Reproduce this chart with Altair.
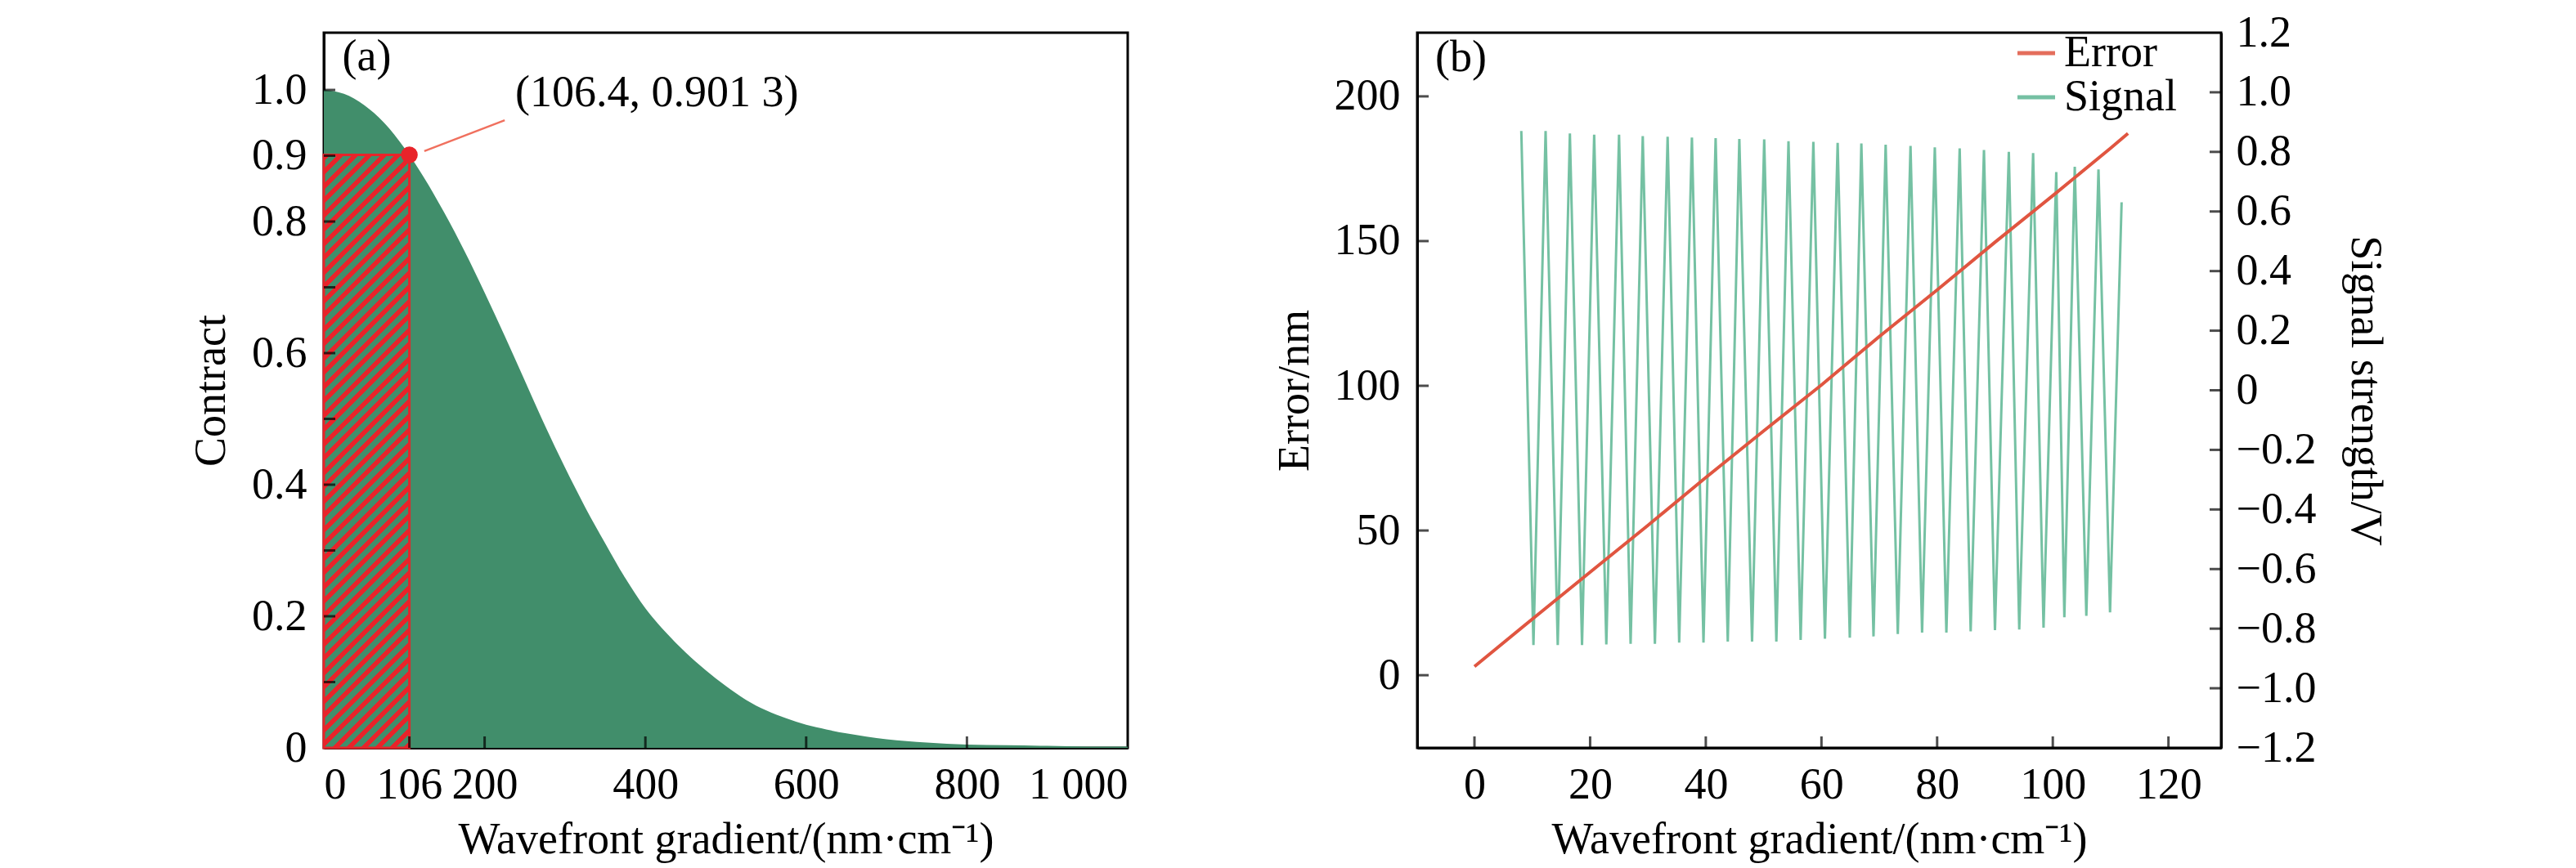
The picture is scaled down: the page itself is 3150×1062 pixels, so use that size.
import pandas as pd
import altair as alt

FONT = "Liberation Serif"
FS = 54
W, H = 983, 875

GREEN = "#418e6b"
RED = "#e8242a"
LEADER = "#f0705e"
ERR_COLOR = "#e05540"
SIG_COLOR = "#5db693"

# ---- panel (a): contrast vs wavefront gradient
GRAD = [0, 25, 50, 75, 100, 125, 150, 175, 200, 225, 250, 275, 300, 325, 350,
        375, 400, 425, 450, 475, 500, 525, 550, 575, 600, 625, 650, 675, 700,
        750, 800, 850, 900, 950, 1000]
CONTRAST = [1.000, 0.994, 0.977, 0.950, 0.912, 0.866, 0.813, 0.755, 0.692, 0.626,
            0.558, 0.490, 0.426, 0.366, 0.311, 0.258, 0.212, 0.176, 0.145, 0.118,
            0.094, 0.073, 0.057, 0.045, 0.035, 0.028, 0.022, 0.017, 0.013,
            0.008, 0.005, 0.004, 0.003, 0.002, 0.002]
HATCH_X = [0, 106.4]
HATCH_Y = [0, 0.9013]
MARK_X, MARK_Y = 106.4, 0.9013
LEADER_X = [125, 225]
LEADER_Y = [0.907, 0.954]
NOTE_TEXT = "(106.4, 0.901 3)"
NOTE_X, NOTE_Y = 238, 0.975
TAG_A_X, TAG_A_Y = 23, 1.030
XLAB_A = [0, 106, 200, 400, 600, 800, 1000]
XTICK_A = [106.4, 200, 400, 600, 800]
YLAB_A = [0, 0.2, 0.4, 0.6, 0.8, 0.9, 1.0]
YTICK_A = [0.1, 0.2, 0.3, 0.4, 0.5, 0.6, 0.7, 0.8, 0.9, 1.0]
XDOM_A = [0, 1000]
YDOM_A = [0, 1.087]

# ---- panel (b): error line and interference signal
ERR_X = [0, 10, 20, 30, 40, 50, 60, 70, 80, 90, 100, 110, 113]
ERR_Y = [3.0, 19.4, 35.6, 51.8, 68.3, 84.4, 100.3, 117.0, 133.1, 149.6, 165.7, 182.1, 187.2]
SIG_X = [8.1, 10.2, 12.3, 14.4, 16.5, 18.6, 20.7, 22.8, 25.0, 27.0, 29.1, 31.2,
         33.4, 35.4, 37.6, 39.6, 41.7, 43.8, 45.8, 48.0, 50.1, 52.2, 54.3, 56.4,
         58.6, 60.6, 62.8, 64.9, 66.9, 69.0, 71.1, 73.2, 75.4, 77.4, 79.6, 81.6,
         83.9, 85.8, 88.1, 90.0, 92.4, 94.2, 96.6, 98.4, 100.6, 102.0, 103.8,
         105.8, 107.9, 109.9, 111.9]
SIG_Y = [0.870, -0.855, 0.870, -0.855, 0.862, -0.855, 0.858, -0.853, 0.858, -0.851,
         0.853, -0.851, 0.851, -0.847, 0.848, -0.847, 0.846, -0.843, 0.843, -0.843,
         0.842, -0.843, 0.836, -0.838, 0.834, -0.834, 0.830, -0.830, 0.828, -0.826,
         0.824, -0.818, 0.820, -0.813, 0.815, -0.813, 0.812, -0.809, 0.806, -0.805,
         0.800, -0.803, 0.796, -0.797, 0.732, -0.762, 0.750, -0.757, 0.741, -0.745,
         0.631]
TAG_B_X, TAG_B_Y = -6.8, 208.7
XLAB_B = [0, 20, 40, 60, 80, 100, 120]
YLAB_BL = [0, 50, 100, 150, 200]
YLAB_BR = [-1.2, -1.0, -0.8, -0.6, -0.4, -0.2, 0, 0.2, 0.4, 0.6, 0.8, 1.0, 1.2]
XDOM_B = [-9.9, 129.1]
YDOM_BL = [-25.1, 222.0]
YDOM_BR = [-1.2, 1.2]

NUM_LABEL = "datum.value == 0 ? '0' : format(datum.value, '.1f')"
XTITLE = "Wavefront gradient/(nm·cm⁻¹)"


def scale(dom):
    return alt.Scale(domain=dom, nice=False, zero=False)


def hatch_fill(w_px, h_px, period=17.5, frac=0.45):
    # diagonal stripes drawn as a hard-stop linear gradient over the rect box
    r = h_px / w_px
    k = (w_px + h_px) / (w_px * (1 + r * r))
    n = (w_px + h_px) / period
    stops = []
    i = 0
    while i < n:
        a, b, c = i / n, min((i + frac) / n, 1), min((i + 1) / n, 1)
        stops += [
            alt.GradientStop(offset=a, color=RED),
            alt.GradientStop(offset=b, color=RED),
            alt.GradientStop(offset=b, color=GREEN),
            alt.GradientStop(offset=c, color=GREEN),
        ]
        i += 1
    return alt.LinearGradient(gradient="linear", stops=stops, x1=0, y1=0, x2=k, y2=k * r)


def text_layer(x, y, s, xs, ys):
    return (
        alt.Chart(pd.DataFrame({"x": [x], "y": [y], "s": [s]}))
        .mark_text(align="left", baseline="alphabetic", font=FONT, fontSize=FS, color="black")
        .encode(x=alt.X("x:Q").scale(xs), y=alt.Y("y:Q").scale(ys), text="s:N")
    )


def x_ticks(vals, xs):
    return (
        alt.Chart(pd.DataFrame({"t": vals}))
        .mark_tick(orient="vertical", size=14, thickness=3, color="black")
        .encode(x=alt.X("t:Q").scale(xs), y=alt.value(H - 7))
    )


def y_ticks(vals, ys, at):
    return (
        alt.Chart(pd.DataFrame({"t": vals}))
        .mark_tick(orient="horizontal", size=14, thickness=3, color="black")
        .encode(y=alt.Y("t:Q").scale(ys), x=alt.value(at))
    )


def x_axis(values, **kw):
    return alt.Axis(
        values=values, labelPadding=18, title=XTITLE, titleX=W / 2, titleY=128,
        titleBaseline="alphabetic", titleAlign="center", **kw,
    )


def y_axis(values, title, tx, angle, **kw):
    return alt.Axis(
        values=values, title=title, titleX=tx, titleY=H / 2, titleAngle=angle,
        titleBaseline="middle", titleAlign="center", **kw,
    )


def chart_contrast() -> alt.LayerChart:
    xs, ys = scale(XDOM_A), scale(YDOM_A)
    area = (
        alt.Chart(pd.DataFrame({"g": GRAD, "c": CONTRAST}))
        .mark_area(color=GREEN, interpolate="monotone")
        .encode(
            x=alt.X("g:Q").scale(xs).axis(
                x_axis(XLAB_A, labelExpr="datum.value == 1000 ? '1 000' : format(datum.value, 'd')")
            ),
            y=alt.Y("c:Q").scale(ys).axis(
                y_axis(YLAB_A, "Contract", -137.5, 270, labelExpr=NUM_LABEL, labelPadding=21)
            ),
        )
    )
    w_px = (HATCH_X[1] - HATCH_X[0]) * W / (XDOM_A[1] - XDOM_A[0])
    h_px = (HATCH_Y[1] - HATCH_Y[0]) * H / (YDOM_A[1] - YDOM_A[0])
    rect = (
        alt.Chart(pd.DataFrame({"x1": [HATCH_X[0]], "x2": [HATCH_X[1]], "y1": [HATCH_Y[0]], "y2": [HATCH_Y[1]]}))
        .mark_rect(fill=hatch_fill(w_px, h_px), stroke=RED, strokeWidth=3)
        .encode(x=alt.X("x1:Q").scale(xs), x2="x2:Q", y=alt.Y("y1:Q").scale(ys), y2="y2:Q")
    )
    leader = (
        alt.Chart(pd.DataFrame({"x": [LEADER_X[0]], "x2": [LEADER_X[1]], "y": [LEADER_Y[0]], "y2": [LEADER_Y[1]]}))
        .mark_rule(color=LEADER, strokeWidth=2.5)
        .encode(x=alt.X("x:Q").scale(xs), x2="x2:Q", y=alt.Y("y:Q").scale(ys), y2="y2:Q")
    )
    point = (
        alt.Chart(pd.DataFrame({"x": [MARK_X], "y": [MARK_Y]}))
        .mark_circle(size=420, color=RED, opacity=1)
        .encode(x=alt.X("x:Q").scale(xs), y=alt.Y("y:Q").scale(ys))
    )
    return alt.layer(
        area, rect, leader, point,
        text_layer(NOTE_X, NOTE_Y, NOTE_TEXT, xs, ys),
        text_layer(TAG_A_X, TAG_A_Y, "(a)", xs, ys),
        x_ticks(XTICK_A, xs), y_ticks(YTICK_A, ys, 7),
    ).properties(width=W, height=H)


def chart_error_signal() -> alt.LayerChart:
    xs, ysl, ysr = scale(XDOM_B), scale(YDOM_BL), scale(YDOM_BR)
    color_scale = alt.Scale(domain=["Error", "Signal"], range=[ERR_COLOR, SIG_COLOR])
    legend = alt.Legend(
        orient="none", legendX=730, legendY=-2, title=None, symbolType="stroke",
        symbolSize=2116, symbolStrokeWidth=5, labelFont=FONT, labelFontSize=FS,
        labelColor="black", labelOffset=7, rowPadding=0, padding=0,
    )
    bx = alt.X("x:Q").scale(xs).axis(x_axis(XLAB_B, format="d"))
    err = (
        alt.Chart(pd.DataFrame({"x": ERR_X, "e": ERR_Y, "s": "Error"}))
        .mark_line(strokeWidth=4)
        .encode(
            x=bx,
            y=alt.Y("e:Q").scale(ysl).axis(
                y_axis(YLAB_BL, "Error/nm", -150, 270, orient="left", format="d", labelPadding=21)
            ),
            color=alt.Color("s:N").scale(color_scale).legend(legend),
        )
    )
    sig = (
        alt.Chart(pd.DataFrame({"x": SIG_X, "v": SIG_Y, "s": "Signal"}))
        .mark_line(strokeWidth=3, opacity=0.85)
        .encode(
            x=bx,
            y=alt.Y("v:Q").scale(ysr).axis(
                y_axis(YLAB_BR, "Signal strength/V", 175, 90, orient="right",
                       labelExpr=NUM_LABEL, labelPadding=18)
            ),
            color=alt.Color("s:N").scale(color_scale).legend(legend),
        )
    )
    right = alt.layer(sig, y_ticks(YLAB_BR[1:-1], ysr, W - 7))
    left = alt.layer(
        err,
        x_ticks(XLAB_B, xs),
        y_ticks(YLAB_BL, ysl, 7),
        text_layer(TAG_B_X, TAG_B_Y, "(b)", xs, ysl),
    )
    return alt.layer(right, left).resolve_scale(y="independent").properties(width=W, height=H)


chart = (
    alt.hconcat(chart_contrast(), chart_error_signal(), spacing=354, bounds="flush")
    .resolve_scale(color="independent")
    .properties(padding={"left": 222, "top": 3, "right": 10, "bottom": 0})
    .configure_view(stroke="black", strokeWidth=3)
    .configure_axis(
        labelFont=FONT, titleFont=FONT, labelFontSize=FS, titleFontSize=FS,
        titleFontWeight="normal", labelColor="black", titleColor="black",
        grid=False, ticks=False, tickSize=0, domain=True, domainColor="black",
        domainWidth=3, labelOverlap=False, zindex=1,
    )
)

chart.save("out.html", embed_options={"renderer": "svg", "actions": False})
